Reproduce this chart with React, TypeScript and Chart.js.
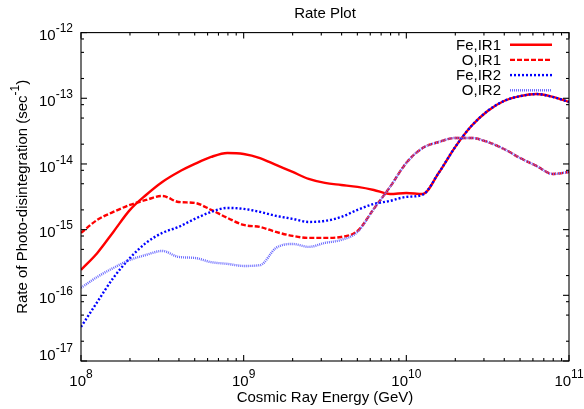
import React, { useEffect, useRef } from "react";
import { Chart, registerables } from "chart.js";

Chart.register(...registerables);

// ---- data ----
const energies = [
  1.0e8, 1.26e8, 1.58e8, 2.0e8, 2.51e8, 3.16e8, 3.98e8, 5.01e8, 6.31e8, 7.94e8,
  1.0e9, 1.26e9, 1.58e9, 2.0e9, 2.51e9, 3.16e9, 3.98e9, 5.01e9, 6.31e9, 7.94e9,
  1.0e10, 1.26e10, 1.58e10, 2.0e10, 2.51e10, 3.16e10, 3.98e10, 5.01e10, 6.31e10, 7.94e10,
  1.0e11,
];

const feIR1 = [
  2.44e-16, 4.42e-16, 9.23e-16, 2.0e-15, 3.37e-15, 5.32e-15, 7.55e-15, 1.0e-14, 1.28e-14, 1.47e-14,
  1.42e-14, 1.23e-14, 9.66e-15, 7.55e-15, 5.92e-15, 5.14e-15, 4.79e-15, 4.47e-15, 4.02e-15, 3.49e-15,
  3.62e-15, 3.49e-15, 7.29e-15, 1.82e-14, 3.78e-14, 6.41e-14, 9.1e-14, 1.08e-13, 1.16e-13, 1.05e-13,
  8.79e-14,
];

const oIR1 = [
  8.91e-16, 1.41e-15, 1.86e-15, 2.38e-15, 2.83e-15, 3.26e-15, 2.64e-15, 2.55e-15, 2.0e-15, 1.51e-15,
  1.18e-15, 1.1e-15, 9.23e-16, 8.02e-16, 7.48e-16, 7.48e-16, 7.74e-16, 9.55e-16, 2.07e-15, 4.47e-15,
  1.04e-14, 1.75e-14, 2.16e-14, 2.49e-14, 2.49e-14, 2.16e-14, 1.69e-14, 1.23e-14, 9.33e-15, 7.05e-15,
  7.55e-15,
];

const feIR2 = [
  3.3e-17, 7.94e-17, 1.84e-16, 3.71e-16, 6.28e-16, 8.91e-16, 1.1e-15, 1.46e-15, 1.86e-15, 2.14e-15,
  2.07e-15, 1.86e-15, 1.62e-15, 1.46e-15, 1.31e-15, 1.36e-15, 1.56e-15, 2.0e-15, 2.46e-15, 2.74e-15,
  3.15e-15, 3.4e-15, 7.29e-15, 1.82e-14, 3.78e-14, 6.41e-14, 9.1e-14, 1.08e-13, 1.16e-13, 1.05e-13,
  8.79e-14,
];

const oIR2 = [
  1.3e-16, 1.91e-16, 2.61e-16, 3.46e-16, 4.12e-16, 4.74e-16, 3.84e-16, 3.71e-16, 3.2e-16, 3.01e-16,
  2.8e-16, 2.88e-16, 5.26e-16, 6.05e-16, 5.46e-16, 6.28e-16, 6.97e-16, 9.23e-16, 2.07e-15, 4.47e-15,
  1.04e-14, 1.75e-14, 2.16e-14, 2.49e-14, 2.49e-14, 2.16e-14, 1.69e-14, 1.23e-14, 9.33e-15, 7.05e-15,
  7.55e-15,
];

const seriesLabels = ["Fe,IR1", "O,IR1", "Fe,IR2", "O,IR2"];
const xTickExponents = [8, 9, 10, 11];
const yTickExponents = [-12, -13, -14, -15, -16, -17];
const xMinorMultipliers = [2, 3, 4, 5, 6, 7, 8, 9];
const yMinorMultipliers = [2, 5, 8];
const tickBase = "10";
const titleText = "Rate Plot";
const xTitleText = "Cosmic Ray Energy (GeV)";
const yTitleMain = "Rate of Photo-disintegration (sec";
const yTitleSup = "-1";
const yTitleEnd = ")";

const FONT_FAMILY = '"Liberation Sans", Arial, Helvetica, sans-serif';
const MAIN_FONT = `15px ${FONT_FAMILY}`;
const SUP_FONT = `12px ${FONT_FAMILY}`;

const styles = [
  { color: "#ff0000", width: 2.4, dash: [] as number[] },
  { color: "#ff0000", width: 2.4, dash: [5, 2] },
  { color: "#0000ff", width: 2.4, dash: [2, 2] },
  { color: "#6a6aff", width: 2.4, dash: [1, 1] },
];

const seriesData = [feIR1, oIR1, feIR2, oIR2];

const framePlugin = {
  id: "gnuplotFrame",
  afterDraw(chart: any) {
    const { ctx, chartArea: a, scales } = chart;
    const xs = scales.x;
    const ys = scales.y;
    ctx.save();
    ctx.strokeStyle = "#000";
    ctx.fillStyle = "#000";
    ctx.lineWidth = 1.1;
    ctx.setLineDash([]);

    // border
    ctx.strokeRect(a.left, a.top, a.right - a.left, a.bottom - a.top);

    const line = (x1: number, y1: number, x2: number, y2: number) => {
      ctx.beginPath();
      ctx.moveTo(x1, y1);
      ctx.lineTo(x2, y2);
      ctx.stroke();
    };

    // x ticks
    xTickExponents.forEach((e, i) => {
      const px = xs.getPixelForValue(Math.pow(10, e));
      line(px, a.bottom, px, a.bottom - 6);
      line(px, a.top, px, a.top + 6);
      if (i < xTickExponents.length - 1) {
        xMinorMultipliers.forEach((m) => {
          const mx = xs.getPixelForValue(m * Math.pow(10, e));
          line(mx, a.bottom, mx, a.bottom - 3);
          line(mx, a.top, mx, a.top + 3);
        });
      }
    });
    // y ticks
    yTickExponents.forEach((e, i) => {
      const py = ys.getPixelForValue(Math.pow(10, e));
      line(a.left, py, a.left + 6, py);
      line(a.right, py, a.right - 6, py);
      if (i > 0) {
        yMinorMultipliers.forEach((m) => {
          const my = ys.getPixelForValue(m * Math.pow(10, e));
          line(a.left, my, a.left + 3, my);
          line(a.right, my, a.right - 3, my);
        });
      }
    });

    ctx.textBaseline = "alphabetic";
    ctx.textAlign = "left";

    // y tick labels
    yTickExponents.forEach((e, i) => {
      const py = ys.getPixelForValue(Math.pow(10, e));
      const sup = String(e);
      ctx.font = SUP_FONT;
      const ws = ctx.measureText(sup).width;
      ctx.font = MAIN_FONT;
      const wb = ctx.measureText(tickBase).width;
      const right = a.left - 8;
      const base = i === yTickExponents.length - 1 ? py - 1 : py + 7.7;
      ctx.fillText(tickBase, right - ws - wb, base);
      ctx.font = SUP_FONT;
      ctx.fillText(sup, right - ws, base - 8);
    });

    // x tick labels
    xTickExponents.forEach((e) => {
      const px = xs.getPixelForValue(Math.pow(10, e));
      const sup = String(e);
      ctx.font = SUP_FONT;
      const ws = ctx.measureText(sup).width;
      ctx.font = MAIN_FONT;
      const wb = ctx.measureText(tickBase).width;
      const left = px - (wb + ws) / 2;
      const base = a.bottom + 25;
      ctx.fillText(tickBase, left, base);
      ctx.font = SUP_FONT;
      ctx.fillText(sup, left + wb, base - 8);
    });

    // title
    ctx.font = MAIN_FONT;
    ctx.textAlign = "center";
    const cx = (a.left + a.right) / 2;
    ctx.fillText(titleText, cx, 18);
    // x title
    ctx.fillText(xTitleText, cx, 402);

    // y title (rotated)
    ctx.textAlign = "left";
    ctx.font = MAIN_FONT;
    const w1 = ctx.measureText(yTitleMain).width;
    const w3 = ctx.measureText(yTitleEnd).width;
    ctx.font = SUP_FONT;
    const w2 = ctx.measureText(yTitleSup).width;
    const total = w1 + w2 + w3;
    ctx.save();
    ctx.translate(27, (a.top + a.bottom) / 2);
    ctx.rotate(-Math.PI / 2);
    let x0 = -total / 2;
    ctx.font = MAIN_FONT;
    ctx.fillText(yTitleMain, x0, 0);
    x0 += w1;
    ctx.font = SUP_FONT;
    ctx.fillText(yTitleSup, x0, -8);
    x0 += w2;
    ctx.font = MAIN_FONT;
    ctx.fillText(yTitleEnd, x0, 0);
    ctx.restore();

    // legend
    ctx.font = MAIN_FONT;
    ctx.textAlign = "right";
    seriesLabels.forEach((label, i) => {
      const base = 49.5 + i * 15.2;
      ctx.fillStyle = "#000";
      ctx.fillText(label, 501, base);
      const st = styles[i];
      ctx.strokeStyle = st.color;
      ctx.lineWidth = st.width;
      ctx.setLineDash(st.dash);
      ctx.beginPath();
      ctx.moveTo(510, base - 4.8);
      ctx.lineTo(552, base - 4.8);
      ctx.stroke();
    });

    ctx.restore();
  },
};

export default function App() {
  const canvasRef = useRef<HTMLCanvasElement | null>(null);

  useEffect(() => {
    document.body.style.margin = "0";
    const canvas = canvasRef.current;
    if (!canvas) return;
    const datasets = seriesData.map((rates, i) => ({
      label: seriesLabels[i],
      data: energies.map((e, j) => ({ x: e, y: rates[j] })),
      borderColor: styles[i].color,
      borderWidth: styles[i].width,
      borderDash: styles[i].dash,
      pointRadius: 0,
      fill: false,
      cubicInterpolationMode: "monotone" as const,
      order: 4 - i,
    }));
    const chart = new Chart(canvas, {
      type: "line",
      data: { datasets },
      options: {
        animation: false,
        responsive: false,
        maintainAspectRatio: false,
        devicePixelRatio: 1,
        layout: { padding: { left: 81, right: 15, top: 32.6, bottom: 48 } },
        plugins: {
          legend: { display: false },
          title: { display: false },
          tooltip: { enabled: false },
        },
        scales: {
          x: { type: "logarithmic", min: 1e8, max: 1e11, display: false },
          y: { type: "logarithmic", min: 1e-17, max: 1e-12, display: false },
        },
      },
      plugins: [framePlugin],
    });
    return () => chart.destroy();
  }, []);

  return (
    <div style={{ width: 584, height: 409, background: "#fff" }}>
      <canvas ref={canvasRef} width={584} height={409} />
    </div>
  );
}
